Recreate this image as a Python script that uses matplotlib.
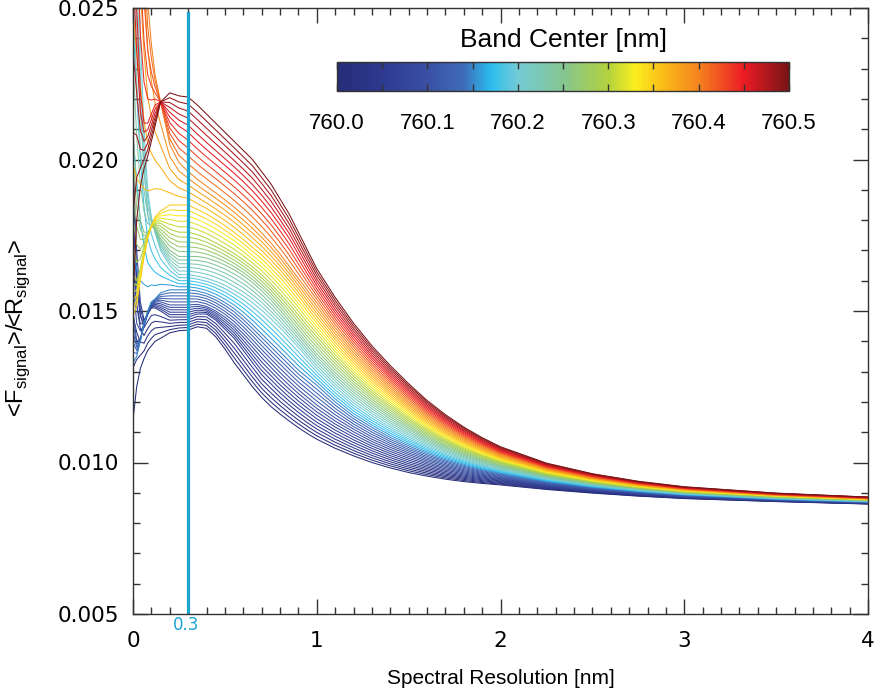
import numpy as np
import matplotlib
matplotlib.use("Agg")
from matplotlib import pyplot as plt
from matplotlib.colors import LinearSegmentedColormap, Normalize
from matplotlib.cm import ScalarMappable
from matplotlib.ticker import MultipleLocator, AutoMinorLocator

plt.rcParams['font.family'] = ['Liberation Sans', 'DejaVu Sans']
plt.rcParams['mathtext.fontset'] = 'custom'
plt.rcParams['mathtext.rm'] = 'Liberation Sans'

# spectral resolution grid [nm]
resolution = [0.0, 0.02, 0.04, 0.06, 0.08, 0.10, 0.12, 0.15, 0.20, 0.25,
              0.30, 0.35, 0.40, 0.45, 0.50, 0.55, 0.60, 0.65, 0.70, 0.75,
              0.80, 0.85, 0.90, 0.95, 1.0, 1.1, 1.2, 1.3, 1.4, 1.5,
              1.6, 1.7, 1.8, 1.9, 2.0, 2.25, 2.5, 2.75, 3.0, 3.5, 4.0]

# <F>/<R> ratio for band centers every 0.05 nm
ratio_76000 = [0.0114, 0.0125, 0.0131, 0.01343, 0.0137, 0.01385, 0.0140, 0.0141, 0.01428, 0.01435,
               0.01437, 0.01448, 0.01443, 0.01415, 0.01375, 0.01330, 0.01290, 0.01250, 0.01215, 0.01185,
               0.01160, 0.01137, 0.01115, 0.01095, 0.01077, 0.01047, 0.01022, 0.01000, 0.00982, 0.00967,
               0.00955, 0.00945, 0.00937, 0.00931, 0.00926, 0.00911, 0.00899, 0.00889, 0.00881, 0.00871, 0.00863]
ratio_76005 = [0.0200, 0.0170, 0.0153, 0.0147, 0.0149, 0.0151, 0.0151, 0.0150, 0.0148, 0.0148,
               0.0148, 0.0149, 0.0149, 0.0147, 0.0144, 0.0141, 0.0137, 0.0133, 0.0129, 0.0126,
               0.0123, 0.01203, 0.01178, 0.01155, 0.01133, 0.01097, 0.01066, 0.01039, 0.01016, 0.00996,
               0.00980, 0.00966, 0.00955, 0.00946, 0.00939, 0.00920, 0.00905, 0.00894, 0.00885, 0.00874, 0.00865]
ratio_76010 = [0.0150, 0.0140, 0.0141, 0.0145, 0.0149, 0.0152, 0.0153, 0.0153, 0.0152, 0.0152,
               0.0152, 0.01522, 0.01515, 0.0150, 0.0148, 0.01455, 0.01425, 0.01393, 0.0136, 0.01328,
               0.01297, 0.01268, 0.0124, 0.01215, 0.0119, 0.01147, 0.0111, 0.01077, 0.0105, 0.01026,
               0.01005, 0.00988, 0.00973, 0.00961, 0.00951, 0.00928, 0.00912, 0.00899, 0.00889, 0.00877, 0.00868]
ratio_76015 = [0.0133, 0.0135, 0.0140, 0.0146, 0.0150, 0.0153, 0.0154, 0.0156, 0.0157, 0.0157,
               0.0157, 0.01566, 0.01558, 0.01545, 0.01528, 0.01508, 0.01483, 0.01455, 0.01425, 0.01395,
               0.01365, 0.01335, 0.01305, 0.0128, 0.01255, 0.0120, 0.01153, 0.01116, 0.01083, 0.01055,
               0.0103, 0.01009, 0.00991, 0.00976, 0.00964, 0.00937, 0.00918, 0.00904, 0.00893, 0.00879, 0.00870]
ratio_76020 = [0.0320, 0.0280, 0.0240, 0.0210, 0.0190, 0.0181, 0.0176, 0.0170, 0.0165, 0.0162,
               0.0162, 0.01615, 0.01608, 0.01598, 0.01585, 0.01568, 0.0155, 0.01528, 0.01503, 0.01475,
               0.01445, 0.01413, 0.0138, 0.01345, 0.0131, 0.0125, 0.01197, 0.01154, 0.01117, 0.01084,
               0.01055, 0.0103, 0.01009, 0.00991, 0.00976, 0.00946, 0.00925, 0.00909, 0.00897, 0.00882, 0.00872]
ratio_76025 = [0.0210, 0.0190, 0.0180, 0.0176, 0.0176, 0.0178, 0.0177, 0.0174, 0.0170, 0.0168,
               0.0168, 0.0168, 0.01675, 0.01665, 0.01652, 0.01636, 0.01617, 0.01594, 0.01567, 0.01537,
               0.01503, 0.01467, 0.0143, 0.01393, 0.01359, 0.01296, 0.01241, 0.01193, 0.01151, 0.01114,
               0.0108, 0.01052, 0.01027, 0.01007, 0.00989, 0.00955, 0.00931, 0.00914, 0.00901, 0.00885, 0.00875]
ratio_76030 = [0.0162, 0.0160, 0.0164, 0.0170, 0.0175, 0.0178, 0.0179, 0.0179, 0.0177, 0.0176,
               0.0176, 0.01752, 0.0174, 0.01725, 0.01708, 0.0169, 0.01669, 0.01646, 0.0162, 0.0159,
               0.01557, 0.01523, 0.01487, 0.0145, 0.01415, 0.01346, 0.01285, 0.01231, 0.01185, 0.01143,
               0.01105, 0.01073, 0.01045, 0.01022, 0.01002, 0.00963, 0.00937, 0.00918, 0.00904, 0.00888, 0.00877]
ratio_76035 = [0.0148, 0.0152, 0.0160, 0.0168, 0.0174, 0.0178, 0.0181, 0.0183, 0.0185, 0.0185,
               0.0185, 0.01835, 0.0182, 0.01802, 0.01782, 0.0176, 0.01736, 0.0171, 0.01685, 0.01655,
               0.01623, 0.01588, 0.0155, 0.0151, 0.01471, 0.01396, 0.01329, 0.0127, 0.01219, 0.01172,
               0.0113, 0.01094, 0.01063, 0.01037, 0.01014, 0.00972, 0.00944, 0.00923, 0.00908, 0.00891, 0.00879]
ratio_76040 = [0.0400, 0.0360, 0.0320, 0.0280, 0.0252, 0.0238, 0.0228, 0.0219, 0.0205, 0.0199,
               0.0196, 0.01935, 0.01912, 0.0189, 0.01867, 0.01843, 0.01817, 0.01789, 0.01758, 0.01725,
               0.01688, 0.01648, 0.01607, 0.01567, 0.01527, 0.01445, 0.01372, 0.01308, 0.01252, 0.01201,
               0.01155, 0.01115, 0.01081, 0.01052, 0.01027, 0.00981, 0.0095, 0.00928, 0.00912, 0.00893, 0.00881]
ratio_76045 = [0.0290, 0.0250, 0.0222, 0.0212, 0.0212, 0.0215, 0.0218, 0.0219, 0.0214, 0.0211,
               0.0209, 0.0206, 0.02033, 0.02007, 0.01981, 0.01955, 0.01927, 0.01897, 0.01863, 0.01826,
               0.01784, 0.0174, 0.01688, 0.01635, 0.01584, 0.01495, 0.01416, 0.01347, 0.01286, 0.01231,
               0.0118, 0.01137, 0.01099, 0.01067, 0.01039, 0.00989, 0.00957, 0.00933, 0.00916, 0.00896, 0.00884]
ratio_76050 = [0.0155, 0.0180, 0.0191, 0.0197, 0.0201, 0.0206, 0.0211, 0.0219, 0.0222, 0.0221,
               0.02206, 0.0218, 0.0215, 0.0212, 0.0209, 0.0206, 0.0203, 0.0200, 0.0196, 0.0192,
               0.0187, 0.0182, 0.0176, 0.0170, 0.0164, 0.01545, 0.0146, 0.01385, 0.0132, 0.0126,
               0.01205, 0.01158, 0.01117, 0.01082, 0.01052, 0.00998, 0.00963, 0.00938, 0.00920, 0.00899, 0.00886]

anchor_centers = [760.00, 760.05, 760.10, 760.15, 760.20, 760.25,
                  760.30, 760.35, 760.40, 760.45, 760.50]
band_centers = np.round(np.arange(760.0, 760.501, 0.01), 2)

cbar_ticks = [760.0, 760.1, 760.2, 760.3, 760.4, 760.5]

# colour table of the band-center scale
cmap_pos = [0.0, 0.1, 0.2, 0.28, 0.34, 0.4, 0.5, 0.6, 0.66, 0.72, 0.8, 0.9, 1.0]
cmap_hex = ['#262c78', '#2e3a8f', '#3a50a2', '#3e6cb8', '#2bbdee', '#74cbd5',
            '#84c591', '#b3d23f', '#fbee1f', '#fbbd18', '#f4841f', '#ec1c24', '#7a1416']

anchors = np.array([ratio_76000, ratio_76005, ratio_76010, ratio_76015, ratio_76020,
                    ratio_76025, ratio_76030, ratio_76035, ratio_76040, ratio_76045,
                    ratio_76050])

cmap = LinearSegmentedColormap.from_list('band', list(zip(cmap_pos, cmap_hex)))
norm = Normalize(760.0, 760.5)

fig = plt.figure(figsize=(8.81, 6.91), dpi=100)
ax = fig.add_axes([133/881, 1-614/691, 735/881, 606/691])

x = np.array(resolution)
for bc in band_centers:
    pos = (bc - anchor_centers[0]) / 0.05
    i = min(int(np.floor(pos + 1e-9)), len(anchor_centers) - 2)
    w = pos - i
    y = (1 - w) * anchors[i] + w * anchors[i + 1]
    ax.plot(x, y, color=cmap(norm(bc)), lw=0.75, solid_joinstyle='round')

# chosen resolution
ax.axvline(0.3, ymax=0.992, color='#1ba5cf', lw=2.3)
ax.text(0.29, 0.00492, '0.3', color='#1ba3d4', fontsize=12, ha='center', va='top',
        family='DejaVu Sans')

ax.set_xlim(0, 4)
ax.set_ylim(0.005, 0.025)
ax.set_xticks([0, 1, 2, 3, 4])
ax.set_yticks([0.005, 0.010, 0.015, 0.020, 0.025])
ax.set_yticklabels(['0.005', '0.010', '0.015', '0.020', '0.025'])
ax.xaxis.set_minor_locator(MultipleLocator(0.1))
ax.yaxis.set_minor_locator(AutoMinorLocator(5))
ax.tick_params(which='both', direction='in', top=True, right=True, colors='#333333')
ax.tick_params(which='major', length=11, width=1)
ax.tick_params(which='minor', length=5, width=1)
ax.tick_params(axis='x', which='major', pad=12)
ax.tick_params(axis='y', which='major', pad=10)
for lab in ax.get_xticklabels() + ax.get_yticklabels():
    lab.set_fontfamily('DejaVu Sans')
    lab.set_fontsize(15.5)
    lab.set_color('black')
for s in ax.spines.values():
    s.set_color('#333333')
    s.set_linewidth(1)

ax.set_xlabel('Spectral Resolution [nm]', fontsize=15, labelpad=13)
ax.set_ylabel(r'<F$_{\rm signal}$>/<R$_{\rm signal}$>', fontsize=17)
ax.yaxis.set_label_coords(-0.137, 0.472)

# band-center colour bar
cax = fig.add_axes([337/881, 1-91/691, 452/881, 29/691])
sm = ScalarMappable(norm=norm, cmap=cmap)
cb = fig.colorbar(sm, cax=cax, orientation='horizontal')
cb.set_ticks(cbar_ticks)
cb.set_ticklabels(['%.1f' % t for t in cbar_ticks])
cax.xaxis.set_minor_locator(MultipleLocator(0.05))
cax.tick_params(which='both', direction='in', top=True, bottom=True, length=5,
                width=1, colors='#333333', labelsize=16, labelcolor='black', pad=16)
cb.outline.set_linewidth(1)
cb.outline.set_edgecolor('#333333')
cax.set_title('Band Center [nm]', fontsize=19, pad=11)

plt.savefig('out.png', dpi=100)
